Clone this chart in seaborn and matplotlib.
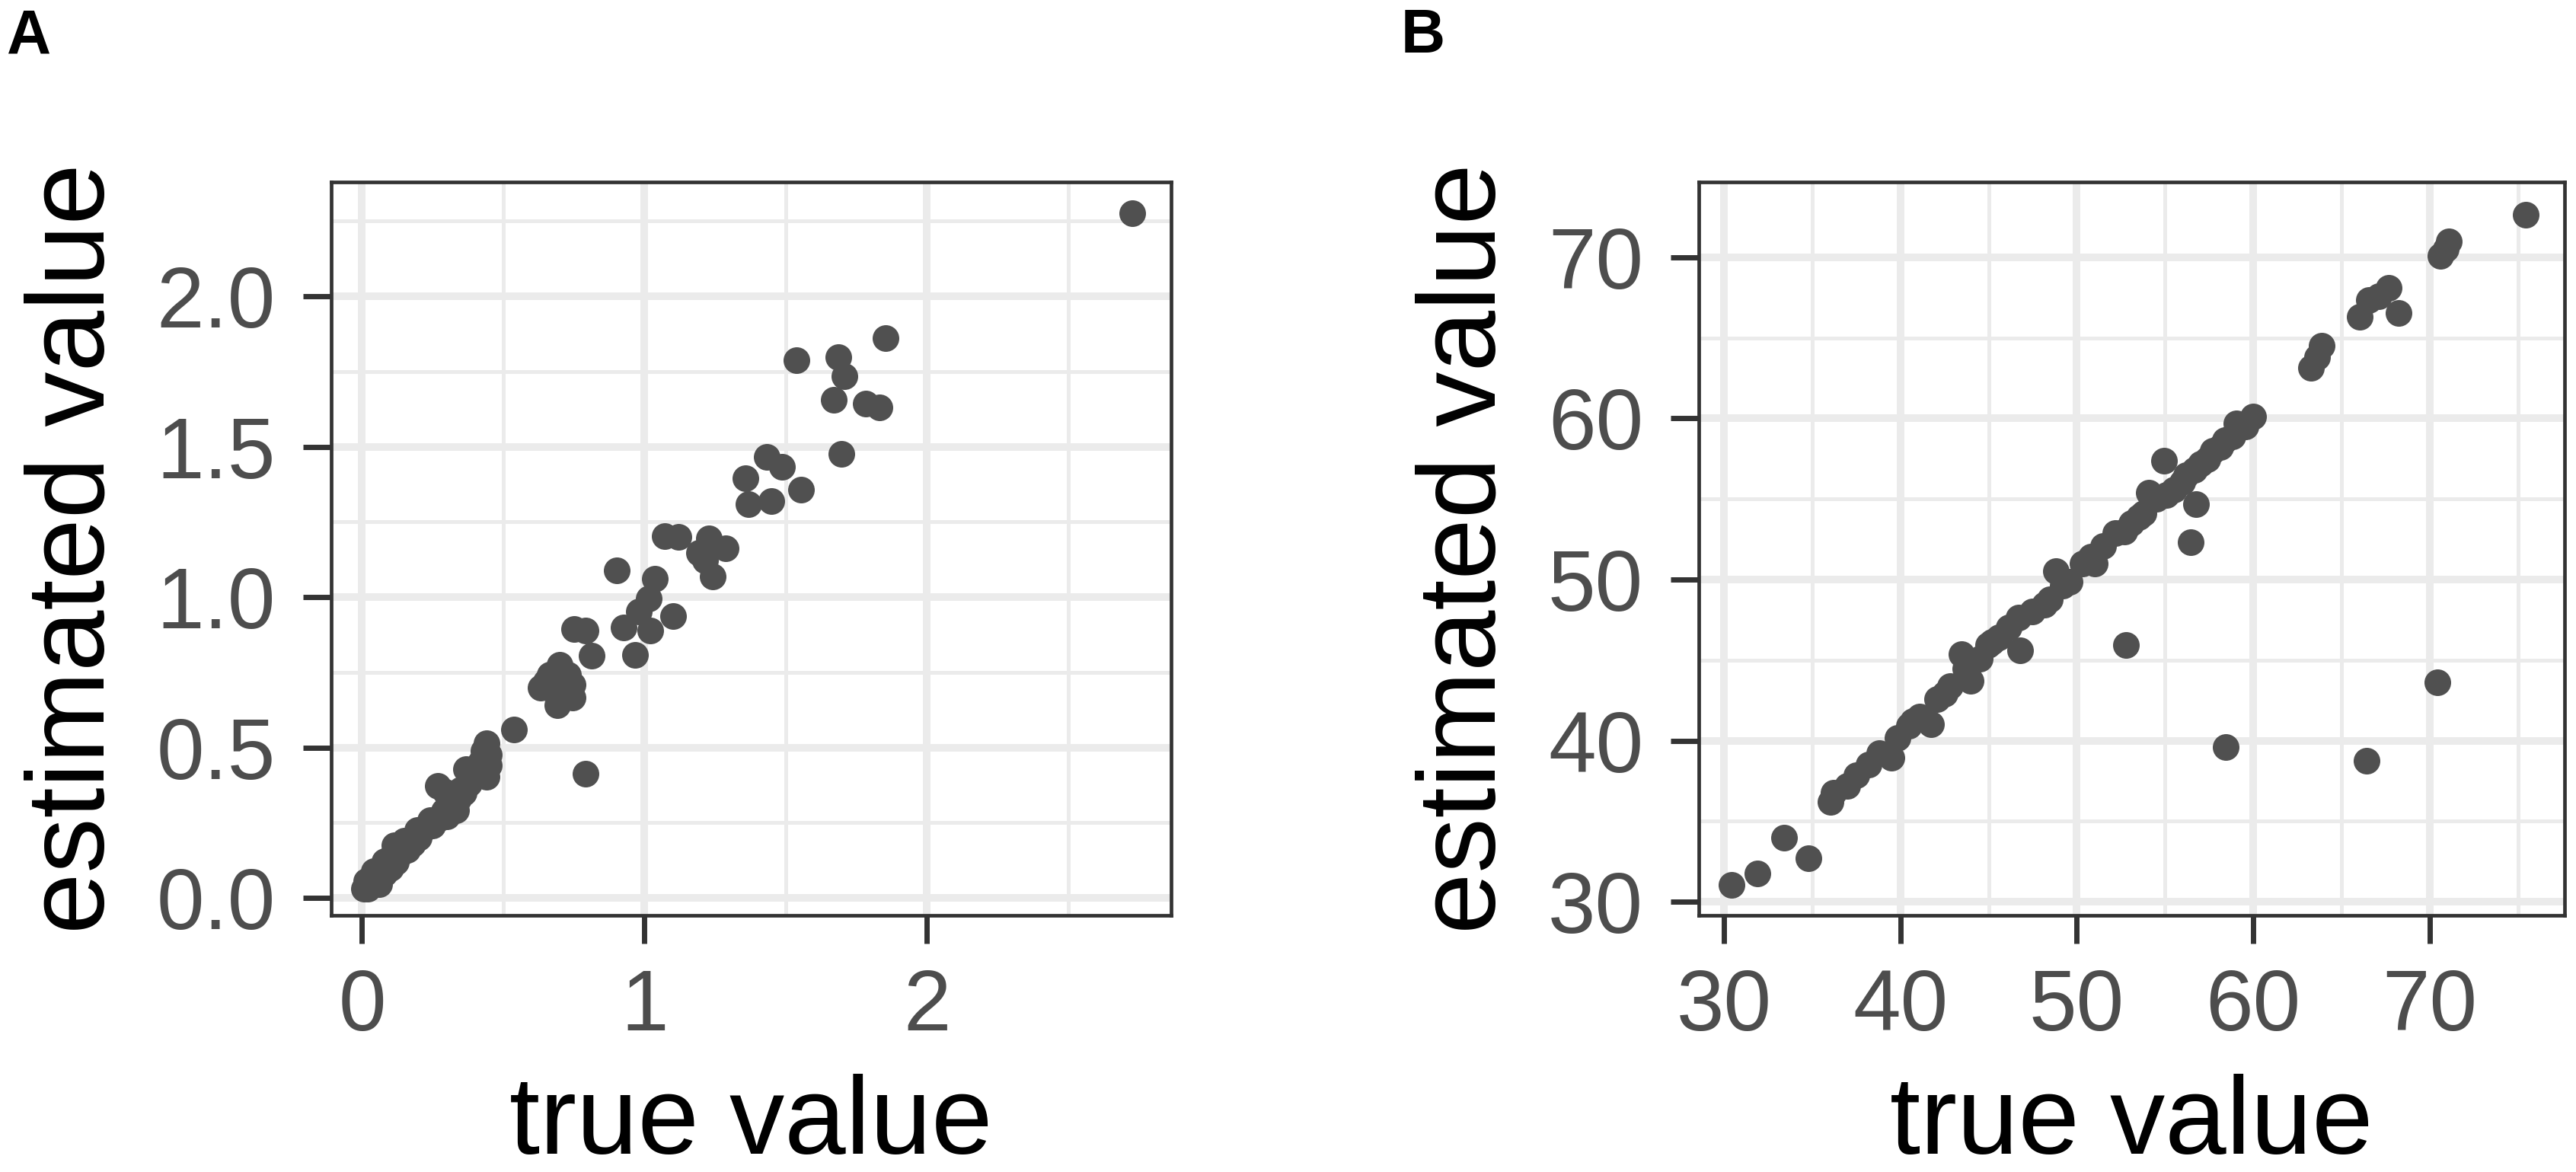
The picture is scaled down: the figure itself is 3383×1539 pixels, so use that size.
import matplotlib
matplotlib.use("Agg")
import matplotlib.pyplot as plt
import seaborn as sns
from matplotlib.ticker import FixedLocator

# panel A: true vs estimated values (small scale)
a_true = [2.727, 1.852, 1.537, 1.687, 1.707, 1.671, 1.782, 1.833, 1.698, 1.434,
          1.488, 1.358, 1.555, 1.367, 1.450, 1.072, 1.121, 1.228, 1.286, 1.192,
          1.215, 1.242, 0.902, 1.037, 1.016, 0.980, 0.926, 1.021, 1.102, 0.967,
          0.750, 0.791, 0.814, 0.791,
          0.700, 0.665, 0.633, 0.692, 0.746, 0.746, 0.692, 0.728, 0.683, 0.720,
          0.660, 0.710, 0.650, 0.700, 0.539,
          0.440, 0.449, 0.413, 0.440, 0.368, 0.386, 0.350, 0.323, 0.268, 0.295,
          0.332, 0.277, 0.241, 0.196, 0.151, 0.115, 0.106, 0.079, 0.043, 0.016,
          0.007, 0.061, 0.420, 0.400, 0.380, 0.360, 0.310, 0.290, 0.260, 0.220,
          0.200, 0.180, 0.160, 0.140, 0.120, 0.100, 0.080, 0.060, 0.040, 0.030,
          0.020, 0.430, 0.450, 0.340, 0.300, 0.250]
a_est = [2.275, 1.860, 1.788, 1.797, 1.735, 1.655, 1.644, 1.631, 1.475, 1.466,
         1.432, 1.394, 1.356, 1.309, 1.318, 1.203, 1.199, 1.195, 1.161, 1.148,
         1.123, 1.068, 1.089, 1.062, 0.996, 0.953, 0.898, 0.890, 0.936, 0.809,
         0.894, 0.890, 0.805, 0.413,
         0.775, 0.742, 0.699, 0.699, 0.708, 0.665, 0.640, 0.742, 0.733, 0.680,
         0.700, 0.720, 0.720, 0.660, 0.559,
         0.513, 0.475, 0.436, 0.403, 0.428, 0.394, 0.360, 0.326, 0.373, 0.352,
         0.292, 0.267, 0.258, 0.225, 0.191, 0.174, 0.140, 0.123, 0.089, 0.055,
         0.030, 0.047, 0.450, 0.410, 0.380, 0.350, 0.310, 0.290, 0.260, 0.230,
         0.200, 0.180, 0.160, 0.150, 0.120, 0.100, 0.080, 0.070, 0.050, 0.040,
         0.030, 0.490, 0.440, 0.330, 0.270, 0.240]

# panel B: true vs estimated values (larger scale)
b_true = [75.43, 71.10, 70.61, 70.90, 67.67, 66.53, 66.04, 68.23, 67.10, 63.86,
          63.27, 63.60, 60.00, 59.57, 59.03, 58.84, 58.38, 58.12, 57.70, 57.40,
          56.68, 55.96, 55.09, 54.95, 56.75, 56.46, 54.08, 53.79, 53.07, 52.20,
          51.48, 50.32, 49.60, 48.81, 48.45, 48.16, 46.71, 46.14, 45.56, 44.98,
          46.79, 43.47, 43.68, 43.97, 42.82, 42.09, 41.08, 41.73, 39.86, 39.49,
          38.80, 38.20, 37.50, 36.20, 36.03, 33.42, 34.79, 31.89, 30.42,
          52.78, 58.44, 66.43, 70.44,
          50.80, 51.00, 52.70, 53.50, 54.50, 55.50, 56.20, 57.00, 49.20, 47.50,
          45.20, 44.50, 42.50, 40.50, 37.00, 40.70]
b_est = [72.65, 70.99, 70.08, 70.50, 68.12, 67.37, 66.32, 66.53, 67.60, 64.51,
         63.15, 63.80, 60.14, 59.50, 59.69, 58.87, 58.63, 58.24, 58.00, 57.45,
         56.82, 56.03, 55.24, 57.37, 54.68, 52.31, 55.39, 54.13, 53.50, 52.87,
         52.08, 50.97, 49.87, 50.50, 48.76, 48.44, 47.65, 47.02, 46.39, 45.92,
         45.60, 45.36, 44.49, 43.70, 43.39, 42.60, 41.49, 41.02, 40.15, 38.96,
         39.20, 38.50, 37.84, 36.78, 36.18, 33.98, 32.71, 31.75, 31.05,
         45.92, 39.58, 38.74, 43.62,
         51.40, 51.00, 53.00, 53.90, 55.00, 55.60, 56.50, 57.20, 49.60, 48.00,
         46.10, 45.10, 42.90, 40.90, 37.20, 41.20]

a_xticks = [0, 1, 2]
a_xminor = [0.5, 1.5, 2.5]
a_yticks = [0.0, 0.5, 1.0, 1.5, 2.0]
a_yminor = [0.25, 0.75, 1.25, 1.75, 2.25]
b_xticks = [30, 40, 50, 60, 70]
b_xminor = [35, 45, 55, 65, 75]
b_yticks = [30, 40, 50, 60, 70]
b_yminor = [35, 45, 55, 65]

sns.set_theme(style="white")
plt.rcParams['font.family'] = ['Liberation Sans', 'DejaVu Sans']

W, H = 3383, 1539
fig = plt.figure(figsize=(W / 100, H / 100), dpi=100)

POINT = "#505050"
GRID = "#EBEBEB"
EDGE = "#333333"


def px_axes(left, top, right, bottom):
    return fig.add_axes([left / W, 1 - bottom / H, (right - left) / W, (bottom - top) / H])


def style_panel(ax, xt, xm, yt, ym, xfmt, yfmt, xlim, ylim):
    ax.set_xlim(*xlim)
    ax.set_ylim(*ylim)
    ax.xaxis.set_major_locator(FixedLocator(xt))
    ax.xaxis.set_minor_locator(FixedLocator(xm))
    ax.yaxis.set_major_locator(FixedLocator(yt))
    ax.yaxis.set_minor_locator(FixedLocator(ym))
    ax.set_xticklabels([xfmt.format(v) for v in xt])
    ax.set_yticklabels([yfmt.format(v) for v in yt])
    ax.set_axisbelow(True)
    ax.grid(which="major", color=GRID, linewidth=7.2)
    ax.grid(which="minor", color=GRID, linewidth=3.6)
    for s in ax.spines.values():
        s.set_visible(True)
        s.set_color(EDGE)
        s.set_linewidth(3.4)
    ax.tick_params(which="major", length=26.5, width=5, color=EDGE,
                   labelsize=81, labelcolor="#4D4D4D", bottom=True, left=True)
    ax.tick_params(axis="y", pad=26)
    ax.tick_params(axis="x", pad=23)
    ax.tick_params(which="minor", length=0)
    ax.set_xlabel("true value", fontsize=104, color="black", labelpad=24)
    ax.set_ylabel("estimated value", fontsize=104, color="black", labelpad=28)


ax_a = px_axes(435, 239, 1538, 1202)
sns.scatterplot(x=a_true, y=a_est, ax=ax_a, color=POINT, s=635, linewidth=0, alpha=1)
style_panel(ax_a, a_xticks, a_xminor, a_yticks, a_yminor, "{:d}", "{:.1f}",
            (-0.109, 2.864), (-0.058, 2.38))

ax_b = px_axes(2231, 239, 3368, 1202)
sns.scatterplot(x=b_true, y=b_est, ax=ax_b, color=POINT, s=635, linewidth=0, alpha=1)
style_panel(ax_b, b_xticks, b_xminor, b_yticks, b_yminor, "{:d}", "{:d}",
            (28.58, 77.64), (29.15, 74.68))

fig.text(9 / W, 1 - 10 / H, "A", fontsize=58, fontweight="bold", color="black",
         va="top", ha="left")
fig.text(1840 / W, 1 - 10 / H, "B", fontsize=58, fontweight="bold", color="black",
         va="top", ha="left")

fig.savefig("out.png", dpi=100, facecolor="white")
